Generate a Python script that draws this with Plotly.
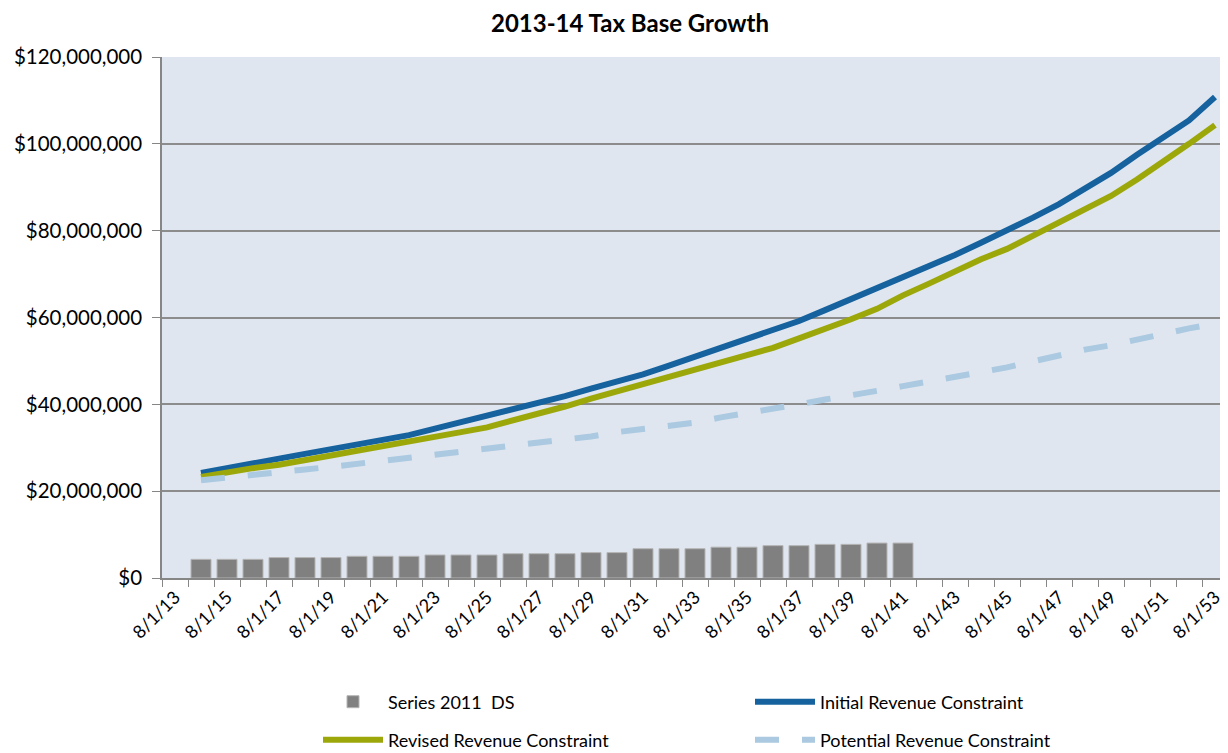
import plotly.graph_objects as go

categories = ["8/1/%d" % y for y in range(13, 54)]

series_2011_ds = [None,
    4.3, 4.3, 4.3, 4.7, 4.7, 4.7, 5.0, 5.0, 5.0, 5.3, 5.3, 5.3, 5.6, 5.6, 5.6,
    5.85, 5.85, 6.75, 6.75, 6.75, 7.1, 7.1, 7.45, 7.45, 7.75, 7.75, 8.05, 8.05]
series_2011_ds += [None] * (len(categories) - len(series_2011_ds))

initial = [None,
    24.2, 25.2, 26.3, 27.5, 28.6, 29.7, 30.9, 31.9, 32.9, 34.4,
    35.9, 37.3, 38.7, 40.2, 41.9, 43.6, 45.2, 46.9, 48.9, 50.9,
    52.9, 54.9, 56.9, 59.2, 61.7, 64.2, 66.8, 69.1, 71.7, 74.4,
    77.2, 80.0, 83.0, 86.1, 89.6, 93.3, 97.5, 101.5, 105.4, 110.8]

revised = [None,
    23.3, 24.4, 25.3, 26.1, 27.0, 28.2, 29.3, 30.3, 31.3, 32.6,
    33.6, 34.7, 36.2, 37.8, 39.5, 41.3, 43.0, 44.6, 46.3, 48.1,
    49.7, 51.3, 53.0, 55.2, 57.3, 59.6, 62.0, 65.1, 67.8, 70.6,
    73.4, 75.8, 78.8, 81.7, 84.8, 88.0, 91.8, 95.8, 100.0, 104.3]

potential = [None,
    22.5, 23.2, 23.8, 24.5, 25.0, 25.6, 26.3, 27.0, 27.6, 28.4,
    29.1, 29.7, 30.4, 31.1, 31.9, 32.6, 33.6, 34.4, 35.0, 35.8,
    37.0, 37.9, 38.9, 40.0, 41.1, 42.0, 43.1, 44.2, 45.3, 46.3,
    47.3, 48.5, 49.9, 51.3, 52.6, 53.6, 55.0, 56.3, 57.5, 58.6]

tick_labels = [c if i % 2 == 0 else "" for i, c in enumerate(categories)]

def dollars(vals):
    return [None if v is None else v * 1e6 for v in vals]

FONT = "Lato, 'Open Sans', sans-serif"

fig = go.Figure()
fig.add_trace(go.Bar(
    x=categories, y=dollars(series_2011_ds), name="Series 2011  DS",
    marker=dict(color="#808080", line=dict(color="#B5B5B5", width=1)),
    legend="legend", showlegend=True))
fig.add_trace(go.Scatter(
    x=categories, y=dollars(initial), name="Initial Revenue Constraint",
    mode="lines", line=dict(color="#15629E", width=6), legend="legend2"))
fig.add_trace(go.Scatter(
    x=categories, y=dollars(revised), name="Revised Revenue Constraint",
    mode="lines", line=dict(color="#9CA80A", width=6), legend="legend3"))
fig.add_trace(go.Scatter(
    x=categories, y=dollars(potential), name="Potential Revenue Constraint",
    mode="lines", line=dict(color="#ABC9E0", width=6, dash="24px,23px"),
    legend="legend4"))

W, H = 1220, 745   # page is offset by the 8px body margin
leg_common = dict(font=dict(family=FONT, size=18, color="#000000"),
                  bgcolor="rgba(0,0,0,0)", itemwidth=60,
                  xanchor="left", yanchor="middle", orientation="v")
pw, ph = 1066.0, 521.0
def lx(px):
    return (px - 162) / pw
def ly(py):
    return (578 - py) / ph

fig.update_layout(
    width=W, height=H,
    showlegend=True,
    margin=dict(l=154, r=0, t=49, b=175, autoexpand=False),
    paper_bgcolor="white",
    plot_bgcolor="#DFE6F0",
    bargap=0.23,
    font=dict(family=FONT, color="#000000"),
    title=dict(text="<b>2013-14 Tax Base Growth</b>", x=622 / W, xref="container",
               xanchor="center", y=1 - 16 / H, yref="container", yanchor="middle",
               font=dict(family=FONT, size=24, color="#000000")),
    xaxis=dict(
        type="category", categoryorder="array", categoryarray=categories,
        range=[-0.5, len(categories) - 0.5],
        tickmode="array", tickvals=categories, ticktext=tick_labels,
        tickson="boundaries", ticks="outside", ticklen=7, tickcolor="#868686",
        tickangle=-45, tickfont=dict(family=FONT, size=18, color="#000000"),
        showgrid=False, showline=True, linecolor="#868686", linewidth=1.5,
        zeroline=False, automargin=False),
    yaxis=dict(
        range=[0, 120e6], dtick=20e6, tick0=0,
        tickprefix="$", tickformat=",d",
        ticks="outside", ticklen=8, tickcolor="#868686",
        ticklabelstandoff=6,
        tickfont=dict(family=FONT, size=20.5, color="#000000"),
        showgrid=True, gridcolor="#8C8C8C", gridwidth=1.5,
        showline=True, linecolor="#868686", linewidth=1.5,
        zeroline=False, automargin=False),
    legend=dict(x=lx(318), y=ly(702), **leg_common),
    legend2=dict(x=lx(750), y=ly(702), **leg_common),
    legend3=dict(x=lx(318), y=ly(740), **leg_common),
    legend4=dict(x=lx(750), y=ly(740), **leg_common),
)

fig.write_html("out.html")
